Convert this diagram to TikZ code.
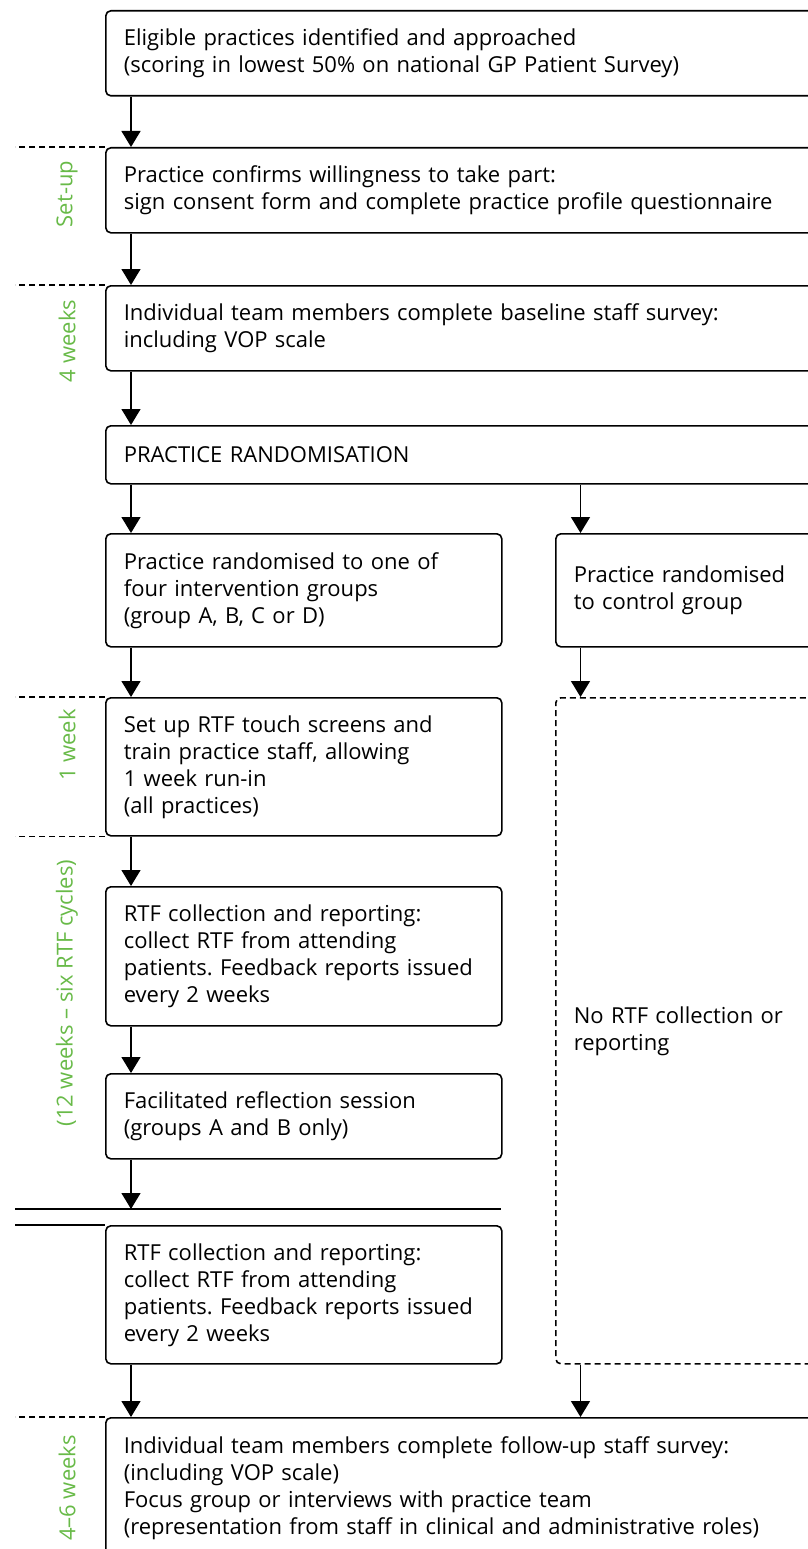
\documentclass[tikz,border=0pt]{standalone}
\usepackage{fontspec}
\setmainfont{Open Sans}
\usetikzlibrary{arrows.meta}
\definecolor{phasegreen}{RGB}{104,186,72}
\frenchspacing

\begin{document}
\begin{tikzpicture}[
		x=1pt, y=-1pt,
		every node/.style={font=\fontsize{22}{27}\selectfont},
		box/.style={draw, rounded corners=5pt, line width=1.6pt, align=left, anchor=north west, inner xsep=18pt, inner ysep=0pt},
		nortf/.style={box, dash pattern=on 6pt off 4pt},
		arr/.style={-{Triangle[length=16pt,width=19pt]}, line width=1.4pt},
		sep/.style={dash pattern=on 6pt off 4pt, line width=1.4pt},
		rule/.style={line width=1.5pt},
		phase/.style={text=phasegreen, rotate=90}
	]
  \useasboundingbox (0,0) rectangle (807,1549);
  % main column
  \node (elig) [box, text width=689pt, minimum height=85pt] at (105,10) {Eligible practices identified and approached\\(scoring in lowest 50\% on national GP Patient Survey)};
  \node (confirm) [box, text width=689pt, minimum height=85pt] at (105,147) {Practice confirms willingness to take part:\\sign consent form and complete practice profile questionnaire};
  \node (base) [box, text width=689pt, minimum height=85pt] at (105,285) {Individual team members complete baseline staff survey:\\including VOP scale};
  \node (rand) [box, text width=689pt, minimum height=58pt] at (105,425) {PRACTICE RANDOMISATION};
  \node (interv) [box, text width=360pt, minimum height=113pt] at (105,533) {Practice randomised to one of\\four intervention groups\\(group A, B, C or D)};
  \node (ctrl) [box, text width=239pt, minimum height=113pt] at (555,533) {Practice randomised\\to control group};
  \node (setup) [box, text width=360pt, minimum height=138pt] at (105,697) {Set up RTF touch screens and\\train practice staff, allowing\\1 week run-in\\(all practices)};
  \node (none) [nortf, text width=239pt, minimum height=666pt] at (555,697) {No RTF collection or\\reporting};
  \node (coll1) [box, text width=360pt, minimum height=139pt] at (105,886) {RTF collection and reporting:\\collect RTF from attending\\patients. Feedback reports issued\\every 2 weeks};
  \node (refl) [box, text width=360pt, minimum height=85pt] at (105,1073) {Facilitated reflection session\\(groups A and B only)};
  \node (coll2) [box, text width=360pt, minimum height=138pt] at (105,1225) {RTF collection and reporting:\\collect RTF from attending\\patients. Feedback reports issued\\every 2 weeks};
  \node (follow) [box, text width=689pt, minimum height=140pt] at (105,1417) {Individual team members complete follow-up staff survey:\\(including VOP scale)\\Focus group or interviews with practice team\\(representation from staff in clinical and administrative roles)};

  % phase labels
  \node (l_setup) [phase] at (67,194) {Set-up};
  \node (l_four) [phase] at (67,341) {4 weeks};
  \node (l_one) [phase] at (67,745) {1 week};
  \node (l_twelve) [phase] at (67,993) {(12 weeks – six RTF cycles)};
  \node (l_last) [phase] at (67,1488) {4–6 weeks};

  % phase borders
  \draw[sep] (confirm.north west) -- +(-90,0);
  \draw[sep] (base.north west) -- +(-90,0);
  \draw[sep] (setup.north west) -- +(-90,0);
  \draw[sep] (setup.south west) -- +(-90,0);
  \draw[sep] (follow.north west) -- +(-90,0);
  \coordinate (brk) at ([xshift=26pt,yshift=16pt]coll2.north west);
  \draw[rule] (brk) ++(-116,0) -- ++(486,0);
  \draw[rule] (coll2.north west) -- +(-90,0);

  % arrows
  \draw[arr] ([xshift=26pt]elig.south west) -- ([xshift=26pt]confirm.north west);
  \draw[arr] ([xshift=26pt]confirm.south west) -- ([xshift=26pt]base.north west);
  \draw[arr] ([xshift=26pt]base.south west) -- ([xshift=26pt]rand.north west);
  \draw[arr] ([xshift=26pt]rand.south west) -- ([xshift=26pt]interv.north west);
  \draw[arr] ([xshift=26pt]interv.south west) -- ([xshift=26pt]setup.north west);
  \draw[arr] ([xshift=26pt]setup.south west) -- ([xshift=26pt]coll1.north west);
  \draw[arr] ([xshift=26pt]coll1.south west) -- ([xshift=26pt]refl.north west);
  \draw[arr] ([xshift=26pt]refl.south west) -- (brk);
  \draw[arr] ([xshift=26pt]coll2.south west) -- ([xshift=26pt]follow.north west);
  \coordinate (c1) at ([xshift=25.5pt]ctrl.north west);
  \coordinate (c2) at ([xshift=25.5pt]none.north west);
  \coordinate (c3) at (c2 |- follow.north);
  \draw[arr] (c1 |- rand.south) -- (c1);
  \draw[arr] (ctrl.south -| c2) -- (c2);
  \draw[arr] (none.south -| c2) -- (c3);
\end{tikzpicture}
\end{document}
